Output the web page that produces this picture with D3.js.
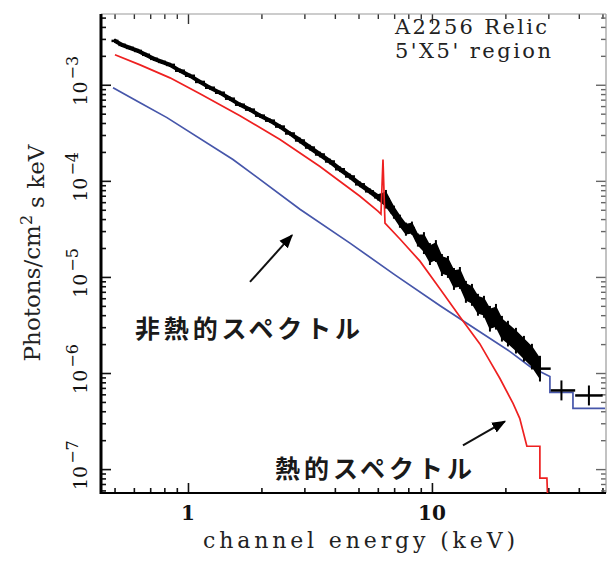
<!DOCTYPE html>
<html>
<head>
<meta charset="utf-8">
<script src="https://cdn.jsdelivr.net/npm/d3@7"></script>
<style>
  body { margin: 0; background: #fff; }
  svg { display: block; }
</style>
</head>
<body>
<svg id="chart" width="615" height="563"></svg>
<script>
// ---------------------------------- DATA

// observed spectrum (channel energy in keV, photons/cm^2/s/keV, relative error)
var dataE = [0.502, 0.536, 0.578, 0.624, 0.673, 0.726, 0.782, 0.844, 0.927, 1.019,
             1.120, 1.231, 1.352, 1.486, 1.633, 1.795, 1.973, 2.168, 2.383, 2.618,
             2.877, 3.162, 3.475, 3.819, 4.198, 4.613, 5.070, 5.571, 6.007, 6.478,
             6.987, 7.393, 7.824, 8.279, 8.761, 9.273, 9.813, 10.38, 10.99, 11.63,
             12.31, 13.02, 13.78, 14.59, 15.44, 16.34, 17.29, 18.30, 19.36, 20.49,
             22.10, 23.83, 25.70, 27.72, 33.95, 44.0];
var dataF = [2.86e-3, 2.60e-3, 2.42e-3, 2.25e-3, 2.05e-3, 1.86e-3, 1.73e-3, 1.61e-3, 1.40e-3, 1.24e-3,
             1.07e-3, 9.31e-4, 8.26e-4, 7.16e-4, 6.20e-4, 5.51e-4, 4.77e-4, 4.23e-4, 3.67e-4, 3.11e-4,
             2.63e-4, 2.22e-4, 1.88e-4, 1.59e-4, 1.32e-4, 1.11e-4, 9.20e-5, 7.78e-5, 6.75e-5, 6.43e-5,
             4.72e-5, 3.80e-5, 3.14e-5, 3.22e-5, 2.42e-5, 2.25e-5, 1.73e-5, 1.86e-5, 1.33e-5, 1.27e-5,
             9.53e-6, 9.76e-6, 6.99e-6, 6.51e-6, 5.13e-6, 4.89e-6, 3.67e-6, 3.85e-6, 2.89e-6, 2.57e-6,
             2.17e-6, 1.79e-6, 1.48e-6, 1.11e-6, 6.59e-7, 5.84e-7];
var dataErr = [0.05, 0.05, 0.05, 0.05, 0.05, 0.05, 0.05, 0.05, 0.05, 0.05,
               0.05, 0.05, 0.05, 0.05, 0.05, 0.05, 0.05, 0.05, 0.05, 0.05,
               0.07, 0.07, 0.07, 0.07, 0.07, 0.07, 0.07, 0.07, 0.08, 0.25,
               0.17, 0.17, 0.17, 0.17, 0.17, 0.30, 0.30, 0.30, 0.30, 0.30,
               0.30, 0.30, 0.30, 0.30, 0.30, 0.30, 0.36, 0.36, 0.36, 0.36,
               0.36, 0.36, 0.36, 0.36, 0.27, 0.27];

// thermal model (red)
var thermalE = [0.502, 0.636, 0.844, 1.120, 1.633, 2.383, 3.475, 5.070, 6.007, 6.18,
                6.30, 6.42, 7.393, 8.93, 10.8, 13.02, 15.7, 17.3, 19.0, 21.5,
                22.9, 24.5, 27.7, 27.7, 29.6, 29.9];
var thermalF = [2.05e-3, 1.61e-3, 1.18e-3, 8.07e-4, 4.77e-4, 2.69e-4, 1.41e-4, 6.91e-5, 4.83e-5, 4.50e-5,
                1.67e-4, 3.63e-5, 2.48e-5, 1.46e-5, 7.51e-6, 3.85e-6, 2.02e-6, 1.32e-6, 8.77e-7, 4.83e-7,
                3.38e-7, 1.73e-7, 1.73e-7, 8.07e-8, 8.07e-8, 4.0e-8];

// non-thermal (power law) model (blue)
var nonthermalE = [0.493, 0.636, 0.820, 1.529, 2.877, 4.613, 7.05, 10.8, 15.7, 20.9,
                   25.2, 30.45, 30.45, 37.85, 37.85, 51.2];
var nonthermalF = [9.31e-4, 6.51e-4, 4.55e-4, 1.67e-4, 5.07e-5, 2.25e-5, 1.05e-5, 5.01e-6, 2.69e-6, 1.67e-6,
                   1.17e-6, 9.20e-7, 6.28e-7, 6.28e-7, 4.29e-7, 4.29e-7];

// tick labels
var xMajor = [1, 10];
var yExponents = [-3, -4, -5, -6, -7];

// ---------------------------------- SCALES

var plot = {left: 101, right: 606, top: 14, bottom: 493};

var x = d3.scaleLog().domain([0.44, 51.7]).range([plot.left, plot.right]);
var y = d3.scaleLog().domain([5.64e-8, 5.45e-3]).range([plot.bottom, plot.top]);

var svg = d3.select("#chart");
var serif = "'DejaVu Serif', 'Liberation Serif', serif";
var jp = "'Noto Sans CJK JP', 'Noto Sans CJK SC', sans-serif";

svg.append("defs").append("clipPath").attr("id", "clip")
  .append("rect")
    .attr("x", plot.left).attr("y", plot.top)
    .attr("width", plot.right - plot.left).attr("height", plot.bottom - plot.top);

// ---------------------------------- AXES (ticks inside on all four sides)

function isMajor(v) { return Math.abs(Math.log10(v) - Math.round(Math.log10(v))) < 1e-6; }
var xMinor = x.ticks().filter(function(v){ return !isMajor(v); });
var yMinor = y.ticks().filter(function(v){ return !isMajor(v); });
var yMajorVals = yExponents.map(function(e){ return Math.pow(10, e); });

function addAxis(axisFn, scale, minor, major, transform, color, width) {
  var g1 = svg.append("g").attr("transform", transform)
    .call(axisFn(scale).tickValues(minor).tickSize(-5).tickFormat(""));
  var g2 = svg.append("g").attr("transform", transform)
    .call(axisFn(scale).tickValues(major).tickSize(-10).tickFormat(""));
  [g1, g2].forEach(function(g){
    g.select(".domain").remove();
    g.selectAll("line").attr("stroke", color).attr("stroke-width", width);
  });
}

addAxis(d3.axisBottom, x, xMinor, xMajor, "translate(0," + plot.bottom + ")", "#111", 1.6);
addAxis(d3.axisTop, x, xMinor, xMajor, "translate(0," + plot.top + ")", "#333", 1.4);
addAxis(d3.axisLeft, y, yMinor, yMajorVals, "translate(" + plot.left + ",0)", "#111", 1.6);
addAxis(d3.axisRight, y, yMinor, yMajorVals, "translate(" + plot.right + ",0)", "#666", 1.4);

// frame
svg.append("line").attr("x1", plot.left).attr("x2", plot.right).attr("y1", plot.top).attr("y2", plot.top)
  .attr("stroke", "#999").attr("stroke-width", 1.2);
svg.append("line").attr("x1", plot.right).attr("x2", plot.right).attr("y1", plot.top).attr("y2", plot.bottom)
  .attr("stroke", "#999").attr("stroke-width", 1.2);
svg.append("line").attr("x1", plot.left).attr("x2", plot.right).attr("y1", plot.bottom).attr("y2", plot.bottom)
  .attr("stroke", "#000").attr("stroke-width", 2.2);
svg.append("line").attr("x1", plot.left).attr("x2", plot.left).attr("y1", plot.top).attr("y2", plot.bottom + 1)
  .attr("stroke", "#000").attr("stroke-width", 3);

// x tick labels
svg.selectAll("text.xlab")
  .data(xMajor)
  .enter().append("text")
    .attr("class", "xlab")
    .attr("x", function(d){ return x(d); })
    .attr("y", 520)
    .attr("text-anchor", "middle")
    .attr("font-family", serif)
    .attr("font-size", 20)
    .attr("font-weight", "bold")
    .attr("fill", "#111")
    .text(function(d){ return d; });

// y tick labels, rotated, 10^-n
var ylab = svg.selectAll("g.ylab")
  .data(yExponents)
  .enter().append("g")
    .attr("class", "ylab")
    .attr("transform", function(d){ return "translate(87," + (y(Math.pow(10, d)) - 4) + ") rotate(-90)"; })
  .append("text")
    .attr("text-anchor", "middle")
    .attr("font-family", serif)
    .attr("font-size", 19)
    .attr("fill", "#111");
ylab.append("tspan").text("10");
ylab.append("tspan").attr("dy", "-0.55em").attr("font-size", 16).attr("dx", 2)
  .text(function(d){ return "\u2212" + Math.abs(d); });

// axis titles
svg.append("text")
  .attr("x", 359).attr("y", 548)
  .attr("text-anchor", "middle")
  .attr("font-family", serif)
  .attr("font-size", 22)
  .attr("fill", "#222")
  .attr("textLength", 312)
  .attr("lengthAdjust", "spacing")
  .text("channel energy (keV)");

var ytitle = svg.append("text")
  .attr("transform", "translate(40,253) rotate(-90)")
  .attr("text-anchor", "middle")
  .attr("font-family", serif)
  .attr("font-size", 23)
  .attr("fill", "#222");
ytitle.append("tspan").text("Photons/cm");
ytitle.append("tspan").attr("dy", "-0.5em").attr("font-size", 16).text("2");
ytitle.append("tspan").attr("dy", "0.5em").attr("dx", 7).text("s keV");

// ---------------------------------- MODELS AND DATA

var line = d3.line()
  .x(function(d){ return x(d[0]); })
  .y(function(d){ return y(d[1]); });

var chart = svg.append("g").attr("clip-path", "url(#clip)");

chart.append("path")
  .attr("fill", "none")
  .attr("stroke", "#4656aa")
  .attr("stroke-width", 1.7)
  .attr("d", line(nonthermalE.map(function(e, i){ return [e, nonthermalF[i]]; })));

// data crosses: bin width from neighbouring channels, vertical error bar
var bins = dataE.map(function(e, i){
  var lo = i > 0 ? Math.sqrt(dataE[i - 1] * e) : e * e / Math.sqrt(e * dataE[i + 1]);
  var hi = i < dataE.length - 1 ? Math.sqrt(dataE[i + 1] * e) : e * e / Math.sqrt(e * dataE[i - 1]);
  return {e: e, f: dataF[i], r: dataErr[i], lo: lo, hi: hi};
});

// densely packed channels merge into a solid band; the last two wide bins stay as crosses
var bandEnd = bins.length - 2;
var band = d3.area()
  .x(function(d){ return x(d.e); })
  .y0(function(d){ return y(d.f / (1 + 0.7 * d.r)); })
  .y1(function(d){ return y(d.f * (1 + 0.7 * d.r)); });

chart.append("path")
  .attr("fill", "#000")
  .attr("stroke", "#000")
  .attr("stroke-width", 1.5)
  .attr("stroke-linejoin", "round")
  .attr("d", band(bins.slice(0, bandEnd)));

var cross = chart.selectAll("g.bin")
  .data(bins)
  .enter().append("g").attr("class", "bin");
cross.append("line")
  .attr("x1", function(d){ return x(d.lo); })
  .attr("x2", function(d){ return x(d.hi); })
  .attr("y1", function(d){ return y(d.f); })
  .attr("y2", function(d){ return y(d.f); })
  .attr("stroke", "#000")
  .attr("stroke-width", 2.5);
cross.append("line")
  .attr("x1", function(d){ return x(d.e); })
  .attr("x2", function(d){ return x(d.e); })
  .attr("y1", function(d){ return y(d.f / (1 + d.r)); })
  .attr("y2", function(d){ return y(d.f * (1 + d.r)); })
  .attr("stroke", "#000")
  .attr("stroke-width", 2);

chart.append("path")
  .attr("fill", "none")
  .attr("stroke", "#ee2020")
  .attr("stroke-width", 1.7)
  .attr("d", line(thermalE.map(function(e, i){ return [e, thermalF[i]]; })));

// ---------------------------------- ANNOTATIONS

svg.append("text")
  .attr("x", 395).attr("y", 34)
  .attr("font-family", serif).attr("font-size", 21).attr("fill", "#222")
  .attr("textLength", 152).attr("lengthAdjust", "spacing")
  .text("A2256 Relic");
svg.append("text")
  .attr("x", 395).attr("y", 58)
  .attr("font-family", serif).attr("font-size", 21).attr("fill", "#222")
  .attr("textLength", 156).attr("lengthAdjust", "spacing")
  .text("5'X5' region");

svg.append("defs").append("marker")
  .attr("id", "head")
  .attr("viewBox", "0 0 10 10")
  .attr("refX", 9).attr("refY", 5)
  .attr("markerWidth", 7).attr("markerHeight", 7)
  .attr("markerUnits", "strokeWidth")
  .attr("orient", "auto")
  .append("path").attr("d", "M0,1 L10,5 L0,9 Z").attr("fill", "#000");

var arrows = [
  {from: [1.795, 8.87e-6], to: [2.67, 2.72e-5]},
  {from: [13.4, 1.77e-7], to: [19.9, 3.14e-7]}
];
svg.selectAll("line.arrow")
  .data(arrows)
  .enter().append("line")
    .attr("class", "arrow")
    .attr("x1", function(d){ return x(d.from[0]); })
    .attr("y1", function(d){ return y(d.from[1]); })
    .attr("x2", function(d){ return x(d.to[0]); })
    .attr("y2", function(d){ return y(d.to[1]); })
    .attr("stroke", "#111")
    .attr("stroke-width", 2)
    .attr("marker-end", "url(#head)");

svg.append("text")
  .attr("x", 135).attr("y", 338)
  .attr("font-family", jp).attr("font-size", 25).attr("font-weight", "bold").attr("fill", "#1a1a1a")
  .attr("textLength", 225).attr("lengthAdjust", "spacing")
  .text("非熱的スペクトル");
svg.append("text")
  .attr("x", 275).attr("y", 478)
  .attr("font-family", jp).attr("font-size", 25).attr("font-weight", "bold").attr("fill", "#1a1a1a")
  .attr("textLength", 197).attr("lengthAdjust", "spacing")
  .text("熱的スペクトル");
</script>
</body>
</html>
